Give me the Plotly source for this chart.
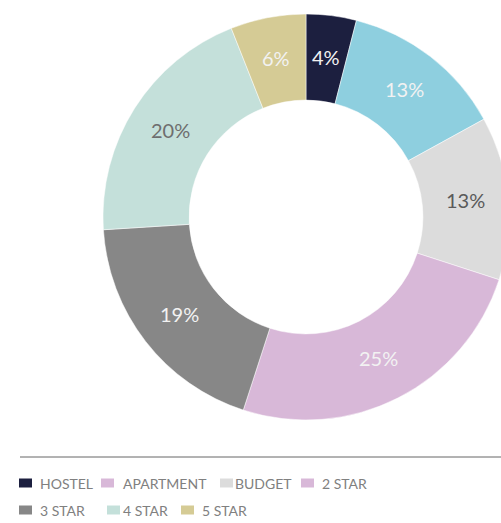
import math
import plotly.graph_objects as go

labels = ["HOSTEL", "APARTMENT", "BUDGET", "2 STAR", "3 STAR", "4 STAR", "5 STAR"]
values = [4, 13, 13, 25, 19, 20, 6]
slice_colors = ["#1c1f3f", "#8ecfdf", "#dcdcdc", "#d8b8d8", "#878787", "#c4e0da", "#d5cb95"]
text_colors = ["#f2f2f2", "#f2f2f2", "#5a5a5a", "#f2f2f2", "#f2f2f2", "#6e6e6e", "#f2f2f2"]
legend_colors = ["#1c1f3f", "#d8b8d8", "#dcdcdc", "#d8b8d8", "#878787", "#c4e0da", "#d5cb95"]

# figure is wider than the window so the donut is clipped at the right edge
W, H = 512, 523
FONT = "Lato, 'Open Sans', sans-serif"
CX, CY, R_OUT, HOLE = 306, 217, 203, 0.576
R_LABEL = R_OUT * (1 + HOLE) / 2


def fx(px):
    return px / W


def fy(py):
    return 1 - py / H


fig = go.Figure()
fig.add_trace(go.Pie(
    labels=labels, values=values, sort=False, direction="clockwise", rotation=0,
    hole=HOLE,
    marker=dict(colors=slice_colors, line=dict(color="#ffffff", width=0.5)),
    textinfo="none",
    showlegend=False, hoverinfo="label+percent",
    domain=dict(x=[fx(CX - R_OUT), fx(CX + R_OUT)], y=[fy(CY + R_OUT), fy(CY - R_OUT)]),
))

annotations = []
# percentage labels at the middle of each ring segment (angles from the data)
total = sum(values)
cum = 0
for v, tc in zip(values, text_colors):
    mid = (cum + v / 2) / total * 2 * math.pi
    cum += v
    px = CX + R_LABEL * math.sin(mid)
    py = CY - 1.5 - R_LABEL * math.cos(mid)
    annotations.append(dict(text=f"{round(v / total * 100)}%", xref="paper", yref="paper",
                            x=fx(px), y=fy(py), xanchor="center", yanchor="middle",
                            showarrow=False, font=dict(family=FONT, size=20, color=tc)))

shapes = [dict(type="line", xref="paper", yref="paper",
               x0=fx(20), x1=1.0, y0=fy(457), y1=fy(457),
               line=dict(color="#666666", width=1))]
legend_pos = [(483, 19, 38), (483, 101, 121), (483, 220, 233), (483, 301, 320),
              (510, 19, 38), (510, 107, 121), (510, 181, 200)]
for lab, col, (yc, sx, tx) in zip(labels, legend_colors, legend_pos):
    shapes.append(dict(type="rect", xref="paper", yref="paper",
                       x0=fx(sx), x1=fx(sx + 13),
                       y0=fy(yc + 4.5), y1=fy(yc - 4.5),
                       fillcolor=col, line=dict(width=0)))
    annotations.append(dict(text=lab, xref="paper", yref="paper",
                            x=fx(tx), y=fy(yc), xanchor="left", yanchor="middle",
                            showarrow=False, font=dict(family=FONT, size=14, color="#808080")))

fig.update_layout(
    width=W, height=H, margin=dict(l=0, r=0, t=0, b=0),
    paper_bgcolor="#ffffff", plot_bgcolor="#ffffff",
    shapes=shapes, annotations=annotations,
)
fig.write_html(
    "out.html",
    config={"displayModeBar": False},
    post_script=(
        "document.body.style.margin='0';"
        "document.body.style.overflow='hidden';"
        "document.documentElement.style.overflow='hidden';"
    ),
)
